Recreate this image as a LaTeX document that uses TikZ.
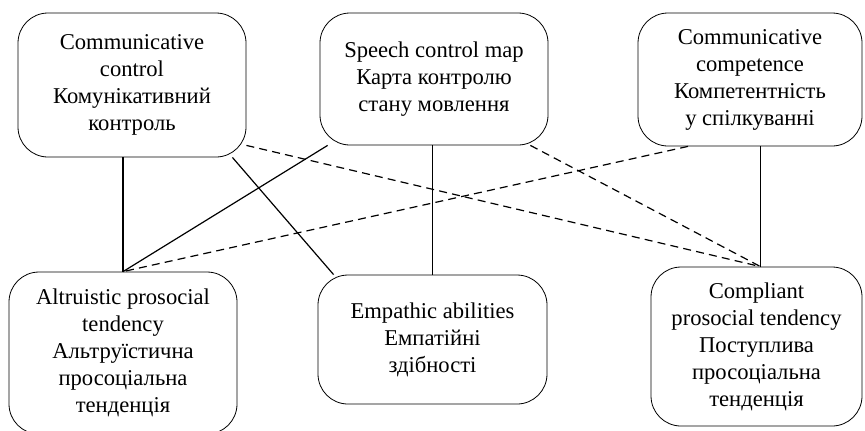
\documentclass[tikz,border=0pt]{standalone}
\usepackage{fontspec}
\setmainfont{Liberation Serif}
\tikzset{
  box/.style={draw, rounded corners=15pt, align=center, inner sep=2pt,
    font=\fontsize{11.3}{13.5}\selectfont},
  link/.style={line width=0.6pt},
  dlink/.style={line width=0.6pt, dash pattern=on 4pt off 2.6pt}
}
\begin{document}
\begin{tikzpicture}[x=0.5pt,y=-0.5pt]
\useasboundingbox (0,0) rectangle (865,430);
\node[box, minimum width=114pt, minimum height=72pt] (cc) at (132,85) {Communicative\\control\\Комунікативний\\контроль};
\node[box, minimum width=114pt, minimum height=66pt] (map) at (434,79) {Speech control map\\Карта контролю\\стану мовлення};
\node[box, minimum width=112pt, minimum height=66.5pt] (comp) at (750,79.5) {Communicative\\competence\\Компетентність\\у спілкуванні};
\node[box, minimum width=114pt, minimum height=81pt] (alt) at (123,353) {Altruistic prosocial\\tendency\\Альтруїстична\\просоціальна\\тенденція};
\node[box, minimum width=114.5pt, minimum height=64.5pt] (emp) at (432.5,339.5) {Empathic abilities\\Емпатійні\\здібності};
\node[box, minimum width=105.5pt, minimum height=79.5pt] (cpl) at (756.5,346.5) {Compliant\\prosocial tendency\\Поступлива\\просоціальна\\тенденція};
\coordinate (cplin) at ([xshift=2pt]cpl.north);
% solid links
\draw[link] (alt.north |- cc.south) -- (alt.north);
\draw[link] ([xshift=-7pt]cc.south east) -- ([xshift=8pt]emp.north west);
\draw[link] ([xshift=4pt]map.south west) -- (alt.north);
\draw[link] (emp.north |- map.south) -- (emp.north);
\draw[link] (cplin |- comp.south) -- (cplin);
% dashed links
\draw[dlink] ([yshift=6pt]cc.south east) -- (cplin);
\draw[dlink] ([xshift=-31pt]comp.south) -- (alt.north);
\draw[dlink] ([xshift=-9pt]map.south east) -- (cplin);
\end{tikzpicture}
\end{document}
